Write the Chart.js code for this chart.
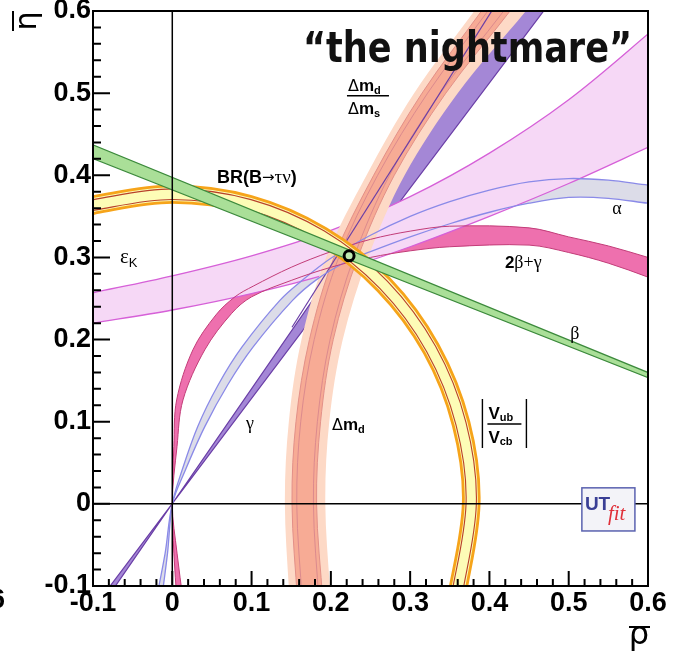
<!DOCTYPE html>
<html>
<head>
<meta charset="utf-8">
<script src="https://cdn.jsdelivr.net/npm/chart.js@4.4.0/dist/chart.umd.min.js"></script>
<style>
  html, body { margin: 0; padding: 0; background: #fff; }
  canvas { display: block; }
</style>
</head>
<body>
<canvas id="utChart" width="677" height="654"></canvas>
<script>
// ================= AXES =================
const xMin = -0.1, xMax = 0.6;
const yMin = -0.1, yMax = 0.6;
const xTicks = [-0.1, 0, 0.1, 0.2, 0.3, 0.4, 0.5, 0.6];
const yTicks = [-0.1, 0, 0.1, 0.2, 0.3, 0.4, 0.5, 0.6];
const xTickLabels = ["-0.1", "0", "0.1", "0.2", "0.3", "0.4", "0.5", "0.6"];
const yTickLabels = ["-0.1", "0", "0.1", "0.2", "0.3", "0.4", "0.5", "0.6"];
const minorStep = 0.02;

// ================= CONSTRAINT BANDS (rho, eta) =================
// beta: straight band
const betaUpper = [[-0.12, 0.445], [0.62, 0.152]];
const betaLower = [[-0.12, 0.428], [0.62, 0.146]];

// gamma: wedge through the origin
const gammaUpper = [[-0.086, -0.12], [0.443, 0.62]];
const gammaLower = [[-0.094, -0.12], [0.484, 0.62]];
const gammaThin = [[0.151, 0.215], [0.416, 0.62]];

// Delta m_d (outer light band, inner band) and Delta m_d / Delta m_s edges
const dmdOuterL = [[0.148, -0.12], [0.142, 0], [0.147, 0.1], [0.163, 0.2], [0.194, 0.3], [0.245, 0.4], [0.305, 0.5], [0.381, 0.6], [0.396, 0.62]];
const dmdOuterR = [[0.2, -0.12], [0.193, 0], [0.198, 0.1], [0.215, 0.2], [0.247, 0.3], [0.293, 0.4], [0.36, 0.5], [0.446, 0.6], [0.462, 0.62]];
const dmdInnerL = [[0.158, -0.12], [0.151, 0], [0.156, 0.1], [0.173, 0.2], [0.204, 0.3], [0.254, 0.4], [0.315, 0.5], [0.39, 0.6], [0.405, 0.62]];
const dmdInnerR = [[0.19, -0.12], [0.182, 0], [0.187, 0.1], [0.203, 0.2], [0.234, 0.3], [0.28, 0.4], [0.345, 0.5], [0.426, 0.6], [0.44, 0.62]];
const dmsL = [[0.164, -0.12], [0.157, 0], [0.162, 0.1], [0.179, 0.2], [0.21, 0.3], [0.259, 0.4], [0.322, 0.5], [0.398, 0.6], [0.412, 0.62]];
const dmsR = [[0.185, -0.12], [0.178, 0], [0.183, 0.1], [0.199, 0.2], [0.229, 0.3], [0.274, 0.4], [0.338, 0.5], [0.418, 0.6], [0.432, 0.62]];

// alpha
const alphaUpper = [[-0.014, -0.12], [-0.006, -0.06], [0, 0], [0.012, 0.04], [0.032, 0.094], [0.058, 0.145], [0.088, 0.191], [0.136, 0.248], [0.165, 0.273], [0.2, 0.299], [0.25, 0.327], [0.3, 0.35], [0.35, 0.368], [0.4, 0.382], [0.45, 0.392], [0.5, 0.396], [0.55, 0.394], [0.6, 0.388], [0.62, 0.386]];
const alphaLower = [[-0.021, -0.12], [-0.009, -0.06], [0, 0], [0.016, 0.04], [0.041, 0.094], [0.07, 0.145], [0.102, 0.191], [0.152, 0.248], [0.182, 0.273], [0.22, 0.295], [0.25, 0.307], [0.3, 0.325], [0.35, 0.341], [0.4, 0.355], [0.45, 0.366], [0.5, 0.373], [0.55, 0.372], [0.6, 0.366], [0.62, 0.364]];

// 2beta + gamma
const sbgUpper = [[0.006, -0.12], [0.002, -0.06], [0, 0], [0.002, 0.07], [0.0055, 0.1265], [0.026, 0.1875], [0.055, 0.23], [0.079, 0.252], [0.102, 0.265], [0.15, 0.288], [0.2, 0.307], [0.25, 0.322], [0.3, 0.332], [0.35, 0.338], [0.45, 0.336], [0.5, 0.325], [0.55, 0.314], [0.6, 0.3], [0.62, 0.294]];
const sbgLower = [[0.014, -0.12], [0.006, -0.06], [0, 0], [0.006, 0.07], [0.0135, 0.1265], [0.041, 0.1875], [0.075, 0.232], [0.1, 0.252], [0.15, 0.272], [0.2, 0.288], [0.25, 0.3], [0.3, 0.308], [0.35, 0.313], [0.45, 0.315], [0.5, 0.306], [0.55, 0.293], [0.6, 0.276], [0.62, 0.268]];

// epsilon_K
const epsUpper = [[-0.12, 0.253], [-0.1, 0.257], [0, 0.2776], [0.1, 0.302], [0.2, 0.333], [0.3, 0.374], [0.4, 0.427], [0.5, 0.492], [0.6, 0.572], [0.62, 0.59]];
const epsLower = [[-0.12, 0.217], [-0.1, 0.22], [0, 0.236], [0.1, 0.256], [0.2, 0.281], [0.3, 0.313], [0.4, 0.35], [0.5, 0.39], [0.6, 0.434], [0.62, 0.443]];

// |Vub/Vcb| and BR(B->tau nu): rings round the origin
const vubOut = [[0.368, -0.12], [0.387, 0], [0.374, 0.1], [0.335, 0.194], [0.274, 0.274], [0.194, 0.335], [0.1, 0.374], [0, 0.387], [-0.1, 0.374], [-0.12, 0.368]];
const vubIn = [[0.347, -0.12], [0.367, 0], [0.3545, 0.095], [0.318, 0.1835], [0.2595, 0.2595], [0.1835, 0.318], [0.095, 0.3545], [0, 0.367], [-0.095, 0.3545], [-0.12, 0.347]];
const brOut = [[0.364, -0.12], [0.3835, 0], [0.3704, 0.0993], [0.3321, 0.1918], [0.2712, 0.2712], [0.1918, 0.3321], [0.0993, 0.3704], [0, 0.3835], [-0.0993, 0.3704], [-0.12, 0.3642]];
const brIn = [[0.3505, -0.12], [0.3705, 0], [0.3579, 0.0959], [0.3209, 0.1853], [0.262, 0.262], [0.1853, 0.3209], [0.0959, 0.3579], [0, 0.3705], [-0.0959, 0.3579], [-0.12, 0.3505]];

// fit result
const bestFit = [[0.223, 0.302]];

// ================= HELPERS =================
const SANS = "'Liberation Sans', Arial, Helvetica, sans-serif";
const SERIF = "'Liberation Serif', 'DejaVu Serif', serif";
const DEJAVU = "'DejaVu Sans', sans-serif";

function pts(list) {
  return list.map(p => ({ x: p[0], y: p[1] }));
}

function ring(a, b) {
  return pts(a.concat(b.slice().reverse()));
}

function fillSet(label, data, color, tension, border, width) {
  return {
    label, data,
    fill: "shape",
    backgroundColor: color,
    borderColor: border || "transparent",
    borderWidth: width || 0,
    tension,
    pointRadius: 0
  };
}

function edgeSet(label, list, color, width, tension) {
  return {
    label, data: pts(list),
    fill: false,
    borderColor: color,
    borderWidth: width,
    tension,
    pointRadius: 0
  };
}

// ================= LAYERS (bottom -> top) =================
const layers = [
  fillSet("γ", ring(gammaUpper, gammaLower), "#a487d6", 0, "#6a3ea6", 1.2),
  fillSet("α", ring(alphaUpper, alphaLower), "#dcdce8", 0.34),
  fillSet("2β+γ", ring(sbgUpper, sbgLower), "#ee70ae", 0.34),
  fillSet("εK", ring(epsUpper, epsLower), "#f6d8f6", 0.34, "#d660d8", 1.3),
  fillSet("Δmd outer", ring(dmdOuterL, dmdOuterR), "#fdd9c6", 0.34),
  fillSet("Δmd", ring(dmdInnerL, dmdInnerR), "#f7ab95", 0.34, "#e39088", 1),
  edgeSet("Δmd/Δms", dmsL, "#dc8a8e", 1, 0.34),
  edgeSet("Δmd/Δms", dmsR, "#dc8a8e", 1, 0.34),
  edgeSet("γ edge", gammaThin, "#6a3ea6", 1.2, 0),
  edgeSet("α edge", alphaUpper, "#8a8ae8", 1.3, 0.34),
  edgeSet("α edge", alphaLower, "#8a8ae8", 1.3, 0.34),
  edgeSet("2β+γ edge", sbgUpper, "#c23c78", 1, 0.34),
  edgeSet("2β+γ edge", sbgLower, "#c23c78", 1, 0.34),
  fillSet("|Vub/Vcb|", ring(vubOut, vubIn), "#fdfcb6", 0.34, "#f6a41a", 2.8),
  edgeSet("BR(B→τν)", brOut, "#b8402a", 1.1, 0.34),
  edgeSet("BR(B→τν)", brIn, "#b8402a", 1.1, 0.34),
  fillSet("β", ring(betaUpper, betaLower), "#aadf98", 0, "#3c8a3c", 1.2),
  {
    label: "fit", data: pts(bestFit), showLine: false,
    pointRadius: 5, pointBorderWidth: 3,
    pointBackgroundColor: "#bfe8b0", pointBorderColor: "#000"
  }
];

// ================= DECORATION PLUGIN =================
function runs(ctx, x, y, parts) {
  ctx.textAlign = "left";
  for (const [s, font, dy] of parts) {
    ctx.font = font;
    ctx.fillText(s, x, y + (dy || 0));
    x += ctx.measureText(s).width;
  }
  return x;
}

const decorPlugin = {
  id: "decor",
  afterDatasetsDraw(chart) {
    const { ctx, chartArea: a, scales } = chart;
    const X = v => scales.x.getPixelForValue(v);
    const Y = v => scales.y.getPixelForValue(v);
    ctx.save();
    ctx.strokeStyle = "#000";
    ctx.fillStyle = "#000";

    // zero lines
    ctx.lineWidth = 1.5;
    ctx.beginPath();
    ctx.moveTo(X(0), a.top); ctx.lineTo(X(0), a.bottom);
    ctx.moveTo(a.left, Y(0)); ctx.lineTo(a.right, Y(0));
    ctx.stroke();

    // frame
    ctx.lineWidth = 2;
    ctx.strokeRect(a.left, a.top, a.right - a.left, a.bottom - a.top);

    // inward ticks
    ctx.beginPath();
    for (let k = -5; k <= 30; k++) {
      const v = k * minorStep;
      const major = k % 5 === 0;
      const px = X(v), py = Y(v);
      ctx.moveTo(px, a.bottom); ctx.lineTo(px, a.bottom - (major ? 15 : 7));
      ctx.moveTo(a.left, py); ctx.lineTo(a.left + (major ? 17 : 8), py);
    }
    ctx.stroke();

    ctx.textBaseline = "alphabetic";

    // epsilon_K
    runs(ctx, X(-0.066), Y(0.2934), [["ε", "21px " + SERIF], ["K", "13px " + SANS, 4]]);

    // BR(B -> tau nu)
    runs(ctx, X(0.0564), Y(0.3909), [
      ["BR(B", "bold 18px " + SANS], ["→", "15px " + DEJAVU, -1],
      ["τν", "19px " + SERIF], [")", "bold 18px " + SANS]
    ]);

    // Delta m_d / Delta m_s
    const fx = X(0.2468), fy = Y(0.4968);
    ctx.lineWidth = 1.3;
    ctx.beginPath(); ctx.moveTo(fx - 21, fy); ctx.lineTo(fx + 21, fy); ctx.stroke();
    runs(ctx, fx - 20, fy - 5, [["Δ", "16px " + DEJAVU], ["m", "bold 17px " + SANS], ["d", "bold 11px " + SANS, 3]]);
    runs(ctx, fx - 20, fy + 18, [["Δ", "16px " + DEJAVU], ["m", "bold 17px " + SANS], ["s", "bold 11px " + SANS, 3]]);

    // alpha, beta, gamma, 2beta+gamma
    ctx.textAlign = "center";
    ctx.font = "18px " + SERIF;
    ctx.fillText("α", X(0.5608), Y(0.353));
    ctx.fillText("β", X(0.5078), Y(0.2009));
    ctx.fillText("γ", X(0.098), Y(0.0912));
    runs(ctx, X(0.4195), Y(0.2873), [["2", "bold 17px " + SANS], ["β+γ", "18px " + SERIF]]);

    // Delta m_d
    runs(ctx, X(0.2014), Y(0.09), [["Δ", "16px " + DEJAVU], ["m", "bold 17px " + SANS], ["d", "bold 11px " + SANS, 3]]);

    // |Vub/Vcb|
    const vx = X(0.4189), vy = Y(0.0973);
    ctx.lineWidth = 1.4;
    ctx.beginPath();
    ctx.moveTo(vx - 22, vy - 25); ctx.lineTo(vx - 22, vy + 24);
    ctx.moveTo(vx + 22, vy - 25); ctx.lineTo(vx + 22, vy + 24);
    ctx.moveTo(vx - 17, vy); ctx.lineTo(vx + 17, vy);
    ctx.stroke();
    runs(ctx, vx - 16, vy - 5, [["V", "bold 17px " + SANS], ["ub", "bold 11px " + SANS, 2]]);
    runs(ctx, vx - 16, vy + 19, [["V", "bold 17px " + SANS], ["cb", "bold 11px " + SANS, 2]]);

    // UTfit logo
    const lx = X(0.5166), ly = Y(0.0195), lw = X(0.5835) - lx, lh = Y(-0.033) - ly;
    ctx.fillStyle = "#f3f3f8";
    ctx.fillRect(lx, ly, lw, lh);
    ctx.strokeStyle = "#5a62b0"; ctx.lineWidth = 1.5;
    ctx.strokeRect(lx, ly, lw, lh);
    ctx.fillStyle = "#3a3f95";
    runs(ctx, lx + 3, ly + 22, [["UT", "bold 19px " + SANS]]);
    ctx.fillStyle = "#e0303a";
    runs(ctx, lx + 26, ly + 32, [["fit", "italic 21px " + SERIF]]);

    // title
    ctx.fillStyle = "#111";
    ctx.font = "bold 42px " + DEJAVU;
    const title = "\u201Cthe nightmare\u201D";
    const tw = ctx.measureText(title).width;
    ctx.save();
    ctx.translate(303, 62);
    ctx.scale(329 / tw, 1);
    ctx.textAlign = "left";
    ctx.fillText(title, 0, 0);
    ctx.restore();

    // axis titles
    ctx.fillStyle = "#000"; ctx.strokeStyle = "#000"; ctx.lineWidth = 2;
    ctx.textAlign = "center";
    ctx.font = "32px " + DEJAVU;
    ctx.fillText("ρ", 639, 644);
    ctx.beginPath(); ctx.moveTo(629, 627); ctx.lineTo(650, 627); ctx.stroke();

    ctx.save();
    ctx.translate(26, 21);
    ctx.rotate(-Math.PI / 2);
    ctx.textBaseline = "middle";
    ctx.font = "30px " + DEJAVU;
    ctx.fillText("η", 0, 2);
    ctx.beginPath(); ctx.moveTo(-10, -13); ctx.lineTo(10, -13); ctx.stroke();
    ctx.restore();

    // stray label at left edge
    ctx.textAlign = "right";
    ctx.textBaseline = "middle";
    ctx.font = "bold 27px " + SANS;
    ctx.fillText("6", 5, 601);

    ctx.restore();
  }
};

// ================= CHART =================
const tickFont = { family: SANS, size: 27, weight: "bold" };

new Chart(document.getElementById("utChart"), {
  type: "line",
  data: { datasets: layers.slice().reverse() },
  options: {
    responsive: false,
    animation: false,
    events: [],
    layout: { padding: { top: 11, right: 29, left: 0, bottom: 0 } },
    elements: { line: { capBezierPoints: false } },
    plugins: {
      legend: { display: false },
      tooltip: { enabled: false },
      filler: { propagate: false }
    },
    scales: {
      x: {
        type: "linear", min: xMin, max: xMax,
        grid: { display: false, drawTicks: false },
        border: { display: false },
        afterBuildTicks: s => { s.ticks = xTicks.map(v => ({ value: v })); },
        afterFit: s => { s.height = 68; s.paddingLeft = 0; s.paddingRight = 0; },
        ticks: {
          autoSkip: false, maxRotation: 0, padding: 1, color: "#000", font: tickFont,
          callback: (v, i) => xTickLabels[i]
        }
      },
      y: {
        type: "linear", min: yMin, max: yMax,
        grid: { display: false, drawTicks: false },
        border: { display: false },
        afterBuildTicks: s => { s.ticks = yTicks.map(v => ({ value: v })); },
        afterFit: s => { s.width = 93; s.paddingTop = 0; s.paddingBottom = 0; },
        ticks: {
          autoSkip: false, padding: 2, color: "#000", font: tickFont,
          callback: (v, i) => yTickLabels[i]
        }
      }
    }
  },
  plugins: [decorPlugin]
});
</script>
</body>
</html>
